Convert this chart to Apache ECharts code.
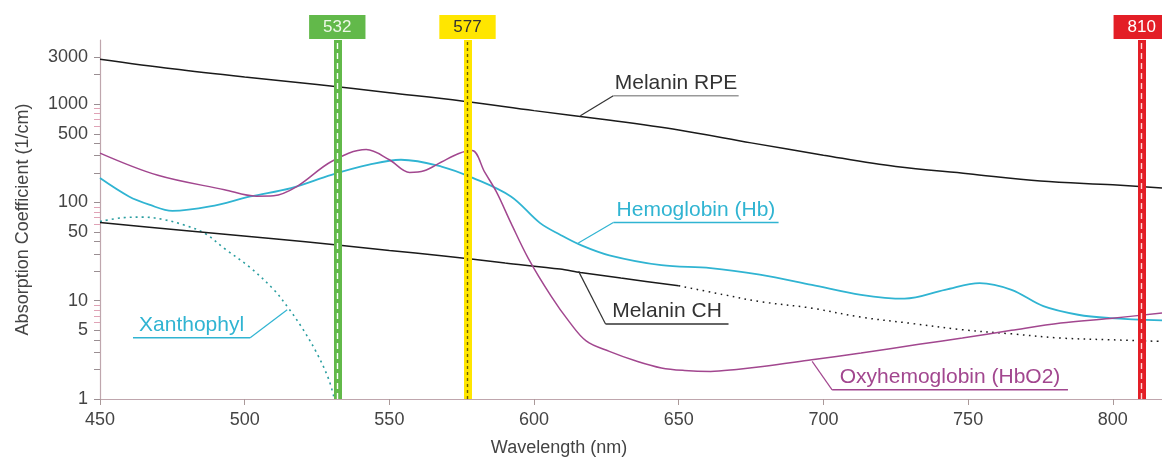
<!DOCTYPE html>
<html><head><meta charset="utf-8">
<script src="https://cdn.jsdelivr.net/npm/echarts@6/dist/echarts.min.js"></script>
<style>html,body{margin:0;padding:0;background:#fff}#c{width:1162px;height:465px}</style>
</head><body><div id="c"></div>
<script>
// ---------- data ----------
const rpeNm  = [450,475,500,525,550,575,600,625,650,675,700,725,750,775,800,817];
const rpeVal = [2870,2290,1890,1590,1310,1080,860,693,545,404,303,232,196,165,151,140];

const hbNm  = [450,460,467,475,488,502,516,530,543,554,568,579,592,602,609,616,626,644,661,678,696,713,728,742,754,765,776,788,799,817];
const hbVal = [177,115,95,82,91,115,140,191,242,272,232,177,115,62,47,37,29,23,21.5,18.4,14.5,11.5,10.5,12.9,15.1,12.9,8.8,7.2,6.66,6.3];

const hbo2Nm  = [450,470,493,504,510,518,530,542,550,557,562,568,574,578.6,583,587,592,598,606,612,618,626,635,644,652,661,670,679,696,713,733,748,765,782,799,817];
const hbo2Val = [318,189,135,116,117,145,261,345,272,202,210,258,315,337,202,128,62,27,11,6.2,3.9,3.05,2.45,2.07,1.95,1.91,2.0,2.14,2.51,2.94,3.6,4.17,5.0,5.93,6.6,7.5];

const chNm  = [450,480,510,532,550,568,590,609,616,630,650];
const chVal = [62.5,51.6,42.7,37,32.5,28.7,24.2,21,19.4,17,14.2];
const chDotNm  = [650,665,678,696,713,730,748,765,782,800,817];
const chDotVal = [14.2,11.6,9.8,8.4,6.8,5.9,5.07,4.6,4.17,4.0,3.85];

const xanNm  = [450,458,465,472,479,486,493,502,510,515,520,525,529,531];
const xanVal = [64,70,71,67,59,49,34,21.6,13,8.5,5.2,2.9,1.6,1.0];

const laserNm = [532,577,810];
const laserText = ['532','577','810'];

const xTicks = [450,500,550,600,650,700,750,800];
const yLabelTicks = [1,5,10,50,100,500,1000,3000];
const yMajorTicks = [1,2,3,4,5,10,20,30,40,50,100,200,300,400,500,1000,2000,3000];
const yMinorTicks = [6,7,8,9,60,70,80,90,600,700,800,900];

// ---------- styles ----------
const FONT = 'Liberation Sans, Arial, Helvetica, sans-serif';
const C = { rpe:'#1a1a1a', hb:'#30b4d2', hbo2:'#a2478f', ch:'#1a1a1a', xan:'#2a9ea0', axis:'#bfa6ad', text:'#444' };
const laserStyle = [
  {fill:'#62b94a', text:'#eef8e8', center:'#ffffff', dash:[6,4]},
  {fill:'#ffe600', text:'#333333', center:'#6b5c00', dash:[3,3]},
  {fill:'#e31e26', text:'#ffffff', center:'#ffd6d6', dash:[6,4]}
];

// callouts in data coordinates: anchor on curve, elbow, end of underline
const callouts = [
  {text:'Melanin RPE', color:'#333', lead:'#333', under:'#999', anchor:[616,761], elbow:[627.4,1217], endNm:670.7},
  {text:'Hemoglobin (Hb)', color:C.hb, lead:C.hb, under:C.hb, anchor:[615.3,38.6], elbow:[627.4,62.5], endNm:684.5},
  {text:'Melanin CH', color:'#333', lead:'#333', under:'#333', anchor:[615.4,19.9], elbow:[624.7,5.79], endNm:667.2},
  {text:'Oxyhemoglobin (HbO2)', color:C.hbo2, lead:C.hbo2, under:C.hbo2, anchor:[696.1,2.41], elbow:[703,1.24], endNm:784.5},
  {text:'Xanthophyl', color:C.hb, lead:C.hb, under:C.hb, anchor:[514.7,8.09], elbow:[501.9,4.2], endNm:461.4}
];

function pairs(xs, ys){ return xs.map((x,i)=>[x, ys[i]]); }

const chart = echarts.init(document.getElementById('c'), null, {renderer:'canvas'});

const markData = [];
laserNm.forEach((nm,i)=>{
  const s = laserStyle[i];
  markData.push({xAxis:nm, lineStyle:{color:s.fill, width:8, type:'solid', opacity:1},
    label:{show:true, position:'end', formatter:laserText[i], backgroundColor:s.fill, color:s.text,
      fontFamily:FONT, fontSize:17, padding:[4,14,3,14], distance:1}});
  markData.push({xAxis:nm, lineStyle:{color:s.center, width:1.4, type:s.dash, opacity:1}, label:{show:false}});
});

const yAxisBase = {
  type:'log', logBase:10, min:1, max:4500,
  splitLine:{show:false}
};

const lineBase = {type:'line', showSymbol:false, z:3};

chart.setOption({
  animation:false,
  backgroundColor:'#fff',
  grid:{left:100, right:0, top:40, bottom:66, containLabel:false},
  xAxis:{
    type:'value', min:450, max:817, interval:50,
    axisLine:{lineStyle:{color:C.axis, width:1.2}},
    axisTick:{show:true, length:6, inside:false, lineStyle:{color:'#a99'}, customValues:xTicks},
    axisLabel:{color:C.text, fontSize:18, fontFamily:FONT, margin:12, customValues:xTicks},
    splitLine:{show:false},
    name:'Wavelength (nm)', nameLocation:'middle', nameGap:40,
    nameTextStyle:{color:C.text, fontSize:18, fontFamily:FONT, padding:[0,144,0,0]}
  },
  yAxis:[
    Object.assign({}, yAxisBase, {
      axisLine:{show:true, lineStyle:{color:C.axis, width:1.2}},
      axisTick:{show:true, length:6, lineStyle:{color:'#9a8e92'}, customValues:yMajorTicks},
      axisLabel:{color:C.text, fontSize:18, fontFamily:FONT, margin:12, customValues:yLabelTicks,
        formatter:v=>String(Math.round(v))},
      name:'Absorption Coefficient (1/cm)', nameLocation:'middle', nameGap:68,
      nameTextStyle:{color:C.text, fontSize:18, fontFamily:FONT}
    }),
    Object.assign({}, yAxisBase, {
      position:'left',
      axisLine:{show:false},
      axisTick:{show:true, length:6, lineStyle:{color:'#e0a3b6'}, customValues:yMinorTicks},
      axisLabel:{show:false}
    })
  ],
  series:[
    {type:'line', name:'lasers', data:[], z:1, silent:true,
      markLine:{symbol:['none','none'], silent:true, animation:false, data:markData}},
    Object.assign({}, lineBase, {name:'Xanthophyl', data:pairs(xanNm,xanVal), smooth:0.35,
      lineStyle:{color:C.xan, width:1.6, type:[2,4]}}),
    Object.assign({}, lineBase, {name:'Melanin CH', data:pairs(chNm,chVal), smooth:0.3,
      lineStyle:{color:C.ch, width:1.5}}),
    Object.assign({}, lineBase, {name:'Melanin CH (ext)', data:pairs(chDotNm,chDotVal), smooth:0.35,
      lineStyle:{color:C.ch, width:1.5, type:[1.6,4.5]}}),
    Object.assign({}, lineBase, {name:'Melanin RPE', data:pairs(rpeNm,rpeVal), smooth:0.35,
      lineStyle:{color:C.rpe, width:1.5}}),
    Object.assign({}, lineBase, {name:'Hemoglobin (Hb)', data:pairs(hbNm,hbVal), smooth:0.35,
      lineStyle:{color:C.hb, width:1.8}}),
    Object.assign({}, lineBase, {name:'Oxyhemoglobin (HbO2)', data:pairs(hbo2Nm,hbo2Val), smooth:0.35, z:4,
      lineStyle:{color:C.hbo2, width:1.5}})
  ]
});

// callouts placed through the chart's own coordinate conversion
const g = [];
callouts.forEach(c=>{
  const a = chart.convertToPixel({gridIndex:0}, c.anchor);
  const e = chart.convertToPixel({gridIndex:0}, c.elbow);
  const endX = chart.convertToPixel({gridIndex:0}, [c.endNm, c.elbow[1]])[0];
  g.push({type:'line', shape:{x1:a[0],y1:a[1],x2:e[0],y2:e[1]}, style:{stroke:c.lead, lineWidth:1.2}, z:10});
  g.push({type:'line', shape:{x1:e[0],y1:e[1],x2:endX,y2:e[1]}, style:{stroke:c.under, lineWidth:1.4}, z:10});
  g.push({type:'text', x:(e[0]+endX)/2, y:e[1]-2, z:10,
    style:{text:c.text, fill:c.color, font:'21px '+FONT, textAlign:'center', textVerticalAlign:'bottom'}});
});
chart.setOption({graphic:g});
</script>
</body></html>
